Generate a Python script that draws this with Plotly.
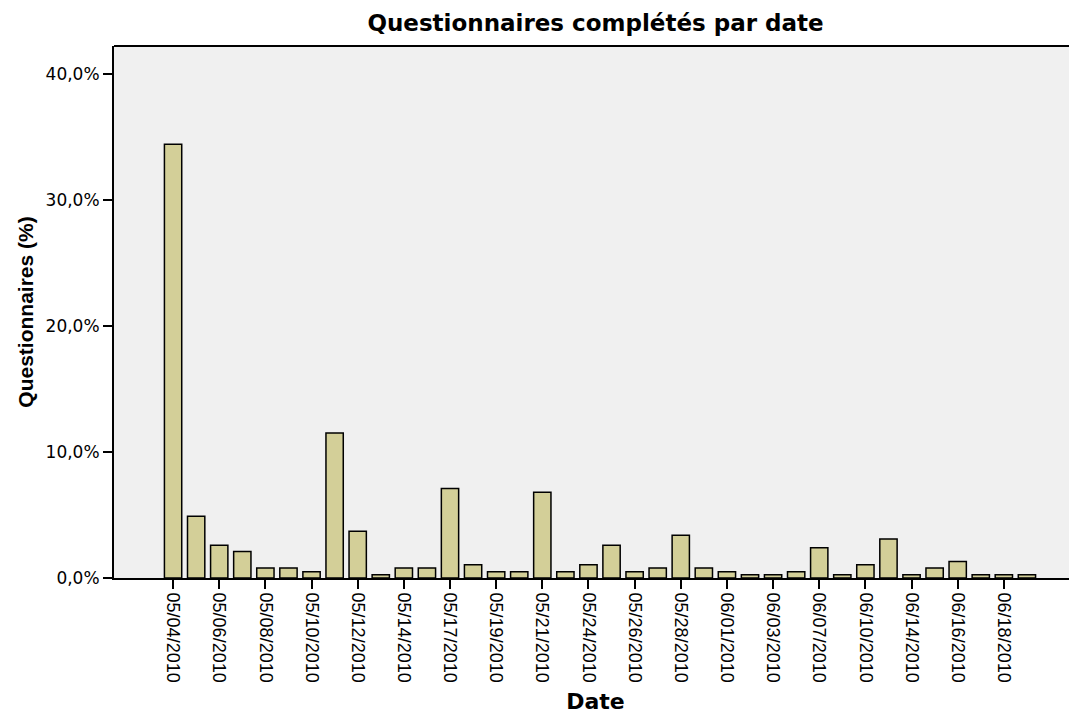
import plotly.graph_objects as go

dates = ["05/04/2010", "05/05/2010", "05/06/2010", "05/07/2010", "05/08/2010", "05/09/2010",
         "05/10/2010", "05/11/2010", "05/12/2010", "05/13/2010", "05/14/2010", "05/16/2010",
         "05/17/2010", "05/18/2010", "05/19/2010", "05/20/2010", "05/21/2010", "05/23/2010",
         "05/24/2010", "05/25/2010", "05/26/2010", "05/27/2010", "05/28/2010", "05/31/2010",
         "06/01/2010", "06/02/2010", "06/03/2010", "06/04/2010", "06/07/2010", "06/08/2010",
         "06/10/2010", "06/11/2010", "06/14/2010", "06/15/2010", "06/16/2010", "06/17/2010",
         "06/18/2010", "06/21/2010"]

percent = [34.4, 4.9, 2.6, 2.1, 0.8, 0.8,
           0.5, 11.5, 3.7, 0.26, 0.8, 0.8,
           7.1, 1.05, 0.5, 0.5, 6.8, 0.5,
           1.05, 2.6, 0.5, 0.8, 3.4, 0.8,
           0.5, 0.26, 0.26, 0.5, 2.4, 0.26,
           1.05, 3.1, 0.26, 0.8, 1.3, 0.26,
           0.26, 0.26]

label_dates = dates[::2]
y_ticks = [0, 10, 20, 30, 40]
y_labels = ["0,0%", "10,0%", "20,0%", "30,0%", "40,0%"]

fig = go.Figure()
fig.add_trace(go.Bar(
    x=dates, y=percent, width=0.75,
    marker=dict(color="#d3cf98", line=dict(color="black", width=1.5)),
))

fig.update_layout(
    width=1069, height=706,
    margin=dict(l=106, r=0, t=38, b=136),
    paper_bgcolor="white", plot_bgcolor="#f0f0f0",
    showlegend=False,
    title=dict(text="<b>Questionnaires complétés par date</b>", x=0.5, xanchor="center",
               xref="paper", y=0.979, yanchor="middle",
               font=dict(family="DejaVu Sans", size=23, color="black")),
    font=dict(family="DejaVu Sans", color="black"),
)

fig.update_xaxes(
    type="category", range=[-2.56, 39.17],
    tickmode="array", tickvals=label_dates, ticktext=label_dates,
    tickangle=90, tickfont=dict(family="Liberation Sans", size=18),
    ticks="outside", ticklen=9, tickwidth=2, tickcolor="black",
    showline=True, linecolor="black", linewidth=2, showgrid=False,
    automargin=False,
    title=dict(text="<b>Date</b>", font=dict(family="DejaVu Sans", size=22), standoff=15),
)
fig.update_yaxes(
    range=[0, 42.2],
    tickmode="array", tickvals=y_ticks, ticktext=y_labels,
    tickfont=dict(family="DejaVu Sans", size=17),
    ticks="outside", ticklen=9, tickwidth=2, tickcolor="black",
    showline=True, linecolor="black", linewidth=2, showgrid=False, zeroline=False,
    automargin=False,
    title=dict(text="<b>Questionnaires (%)</b>", font=dict(family="Liberation Sans", size=21), standoff=6),
)

fig.add_shape(type="line", xref="paper", yref="paper", x0=0, x1=1, y0=1, y1=1,
              line=dict(color="black", width=2))

fig.write_html("out.html")
